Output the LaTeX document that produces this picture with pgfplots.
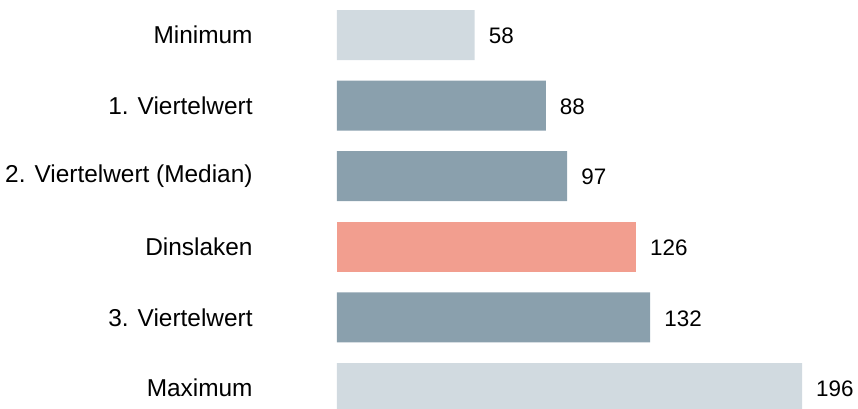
\documentclass[border=0pt]{standalone}
\usepackage{pgfplots}
\pgfplotsset{compat=1.18}
\usepackage{fontspec}
\setmainfont{Liberation Sans}

\definecolor{lightbar}{HTML}{D1DAE0}
\definecolor{darkbar}{HTML}{8AA0AD}
\definecolor{redbar}{HTML}{F29E8F}

\begin{document}
\begin{tikzpicture}[x=1bp,y=1bp]
	\begin{axis}[
		scale only axis,
		width=465bp, height=423.6bp,
		xmin=0, xmax=196,
		ymin=-0.5, ymax=5.5,
		xbar, bar shift=0pt, bar width=50bp,
		axis line style={draw=none},
		tick style={draw=none},
		xtick=\empty,
		ytick={0,1,2,3,4,5},
		yticklabels={Maximum, 3. Viertelwert, Dinslaken, 2. Viertelwert (Median), 1. Viertelwert, Minimum},
		yticklabel style={font=\fontsize{24.5}{28}\selectfont, anchor=east, inner sep=0pt, xshift=-80bp},
		nodes near coords,
		nodes near coords style={font=\fontsize{22.5}{26}\selectfont, anchor=west, inner sep=0pt, xshift=14bp, yshift=-1bp},
		/pgf/number format/assume math mode=true,
		clip=false,
		]
		% light grey: minimum and maximum
		\addplot[fill=lightbar, draw=none] coordinates {(58,5) (196,0)};
		% quartiles
		\addplot[fill=darkbar, draw=none] coordinates {(88,4) (97,3) (132,1)};
		% Dinslaken
		\addplot[fill=redbar, draw=none] coordinates {(126,2)};
	\end{axis}
	\pgfresetboundingbox
	\path[use as bounding box] (-337,15.3) rectangle (521,423.3);
\end{tikzpicture}
\end{document}
